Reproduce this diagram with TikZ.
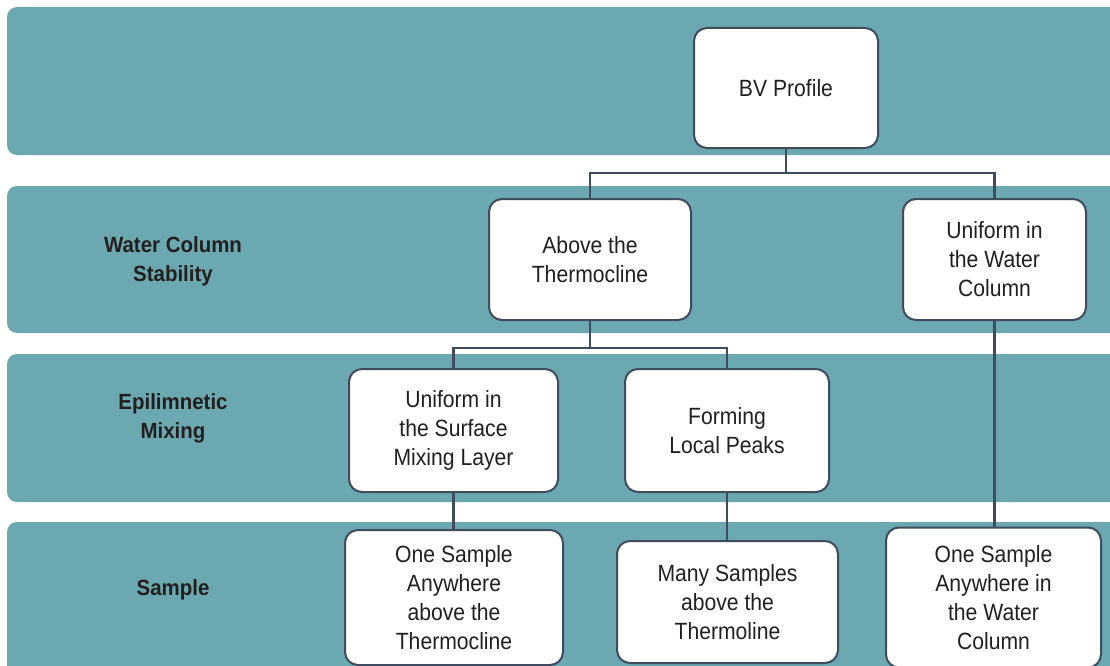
\documentclass[tikz,border=0pt]{standalone}
\usepackage{fontspec}
\setmainfont{Liberation Sans}[FakeStretch=0.9]
\newfontfamily\lblfont{Liberation Sans}[FakeStretch=0.93]
\definecolor{bandc}{HTML}{6CA8B0}
\definecolor{edgec}{HTML}{3F4B5E}
\definecolor{txtc}{HTML}{231F20}
\tikzset{
  band/.style={fill=bandc, rounded corners=10pt},
  box/.style={draw=edgec, line width=2pt, fill=white, rounded corners=13pt,
    align=center, text=txtc, font=\fontsize{23.5}{29}\selectfont, inner sep=0pt},
  lbl/.style={align=center, text=txtc, font=\lblfont\bfseries\fontsize{22}{29}\selectfont},
  conn/.style={draw=edgec, line width=2.4pt}
}
\begin{document}
\begin{tikzpicture}[x=1pt,y=-1pt]
\clip (0,0) rectangle (1110,666);
\fill[white] (0,0) rectangle (1110,666);
% bands
\fill[band] (7,7) rectangle (1140,155);
\fill[band] (7,186) rectangle (1140,333);
\fill[band] (7,354) rectangle (1140,502);
\fill[band] (7,522) rectangle (1140,700);
% labels
\node[lbl] (l1) at (173,261) {Water Column\\Stability};
\node[lbl] (l2) at (173,418) {Epilimnetic\\Mixing};
\node[lbl] (l3) at (173,590) {Sample};
% boxes
\node[box, minimum width=184pt, minimum height=120pt] (bv) at (786,88) {BV Profile};
\node[box, minimum width=202pt, minimum height=121pt] (at) at (590,259.5) {Above the\\Thermocline};
\node[box, minimum width=183pt, minimum height=121pt] (uwc) at (994.5,259.5) {Uniform in\\the Water\\Column};
\node[box, minimum width=209pt, minimum height=123pt] (usml) at (453.5,430.5) {Uniform in\\the Surface\\Mixing Layer};
\node[box, minimum width=204pt, minimum height=123pt] (flp) at (727,430.5) {Forming\\Local Peaks};
\node[box, minimum width=218pt, minimum height=135pt] (os1) at (454,597.5) {One Sample\\Anywhere\\above the\\Thermocline};
\node[box, minimum width=221pt, minimum height=122pt] (ms) at (727.5,602) {Many Samples\\above the\\Thermoline};
\node[box, minimum width=215pt, minimum height=140pt] (os2) at (993.5,597.5) {One Sample\\Anywhere in\\the Water\\Column};
% connectors
\coordinate (j1) at ([yshift=-24pt]bv.south);
\coordinate (j2) at ([yshift=-27pt]at.south);
\draw[conn] (bv.south) -- (j1) -| (at.north);
\draw[conn] (j1) -| (uwc.north);
\draw[conn] (at.south) -- (j2) -| (usml.north);
\draw[conn] (j2) -| (flp.north);
\draw[conn] (usml.south) -- (usml.south |- os1.north);
\draw[conn] (flp.south) -- (flp.south |- ms.north);
\draw[conn] (uwc.south) -- (uwc.south |- os2.north);
\end{tikzpicture}
\end{document}
